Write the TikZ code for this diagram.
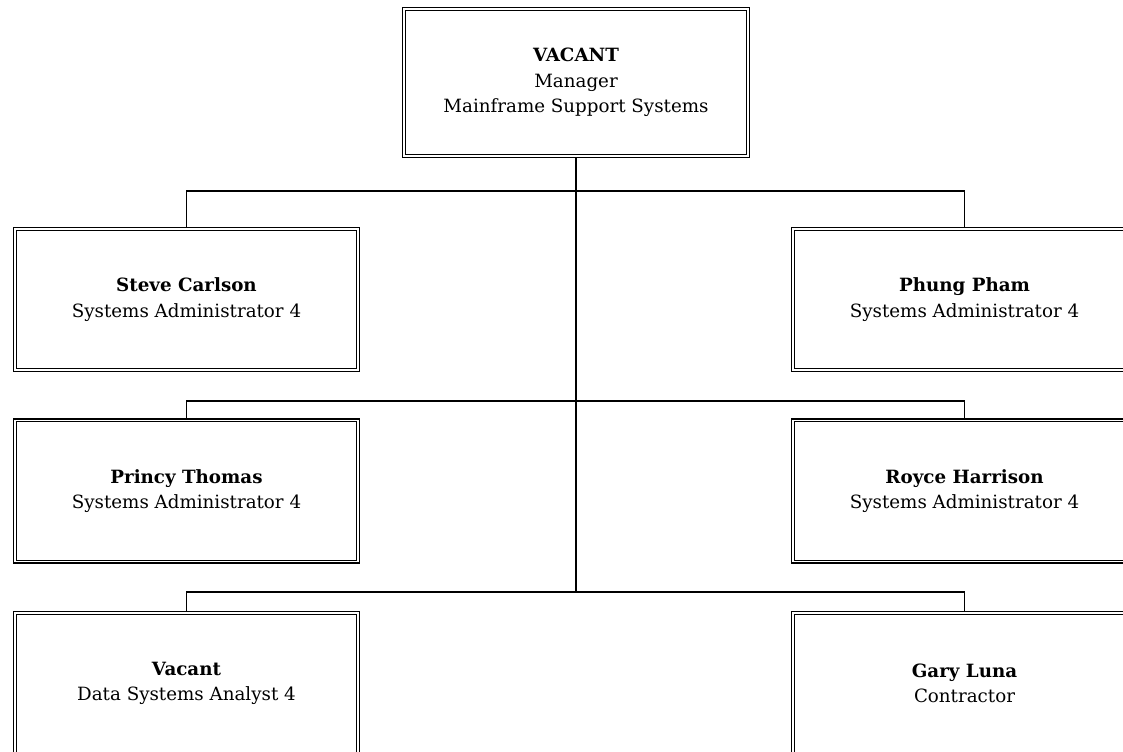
\documentclass[tikz,border=0pt]{standalone}
\usepackage{fontspec}
\setmainfont{DejaVu Serif}
\usetikzlibrary{positioning, backgrounds}
\tikzset{
  post/.style  = {draw, double, line width=1pt, double distance=1.2pt,
                  rectangle, align=center, inner sep=2pt,
                  minimum width=257pt, minimum height=106pt,
                  font=\fontsize{13.7}{19}\selectfont},
  head/.style  = {post, minimum width=258pt, minimum height=110pt},
  trunk/.style = {line width=1.5pt},
  link/.style  = {line width=1pt},
}

\begin{document}
\begin{tikzpicture}[x=0.75pt, y=-0.75pt]
  \clip (0,0) rectangle (1123,751);
  % manager
  \node[head] (mgr) at (576,82.5) {\textbf{VACANT}\\Manager\\Mainframe Support Systems};
  % staff, left column
  \node[post] (l1) at (186.5,299.5) {\textbf{Steve Carlson}\\Systems Administrator 4};
  \node[post] (l2) at (186.5,491) {\textbf{Princy Thomas}\\Systems Administrator 4};
  \node[post] (l3) at (186.5,683.5) {\textbf{Vacant}\\Data Systems Analyst 4};
  % staff, right column
  \node[post] (r1) at (964.5,299.5) {\textbf{Phung Pham}\\Systems Administrator 4};
  \node[post] (r2) at (964.5,491) {\textbf{Royce Harrison}\\Systems Administrator 4};
  \node[post] (r3) at (964.5,683.5) {\textbf{Gary Luna}\\Contractor};
  % reporting lines
  \coordinate (b1) at (576,191);
  \coordinate (b2) at (576,401);
  \coordinate (b3) at (576,592);
  \begin{scope}[on background layer]
    \draw[trunk] (mgr.south) -- (b3);
    \foreach \k in {1,2,3}{
      \draw[link] (l\k.north) |- (b\k) -| (r\k.north);
    }
  \end{scope}
\end{tikzpicture}
\end{document}
